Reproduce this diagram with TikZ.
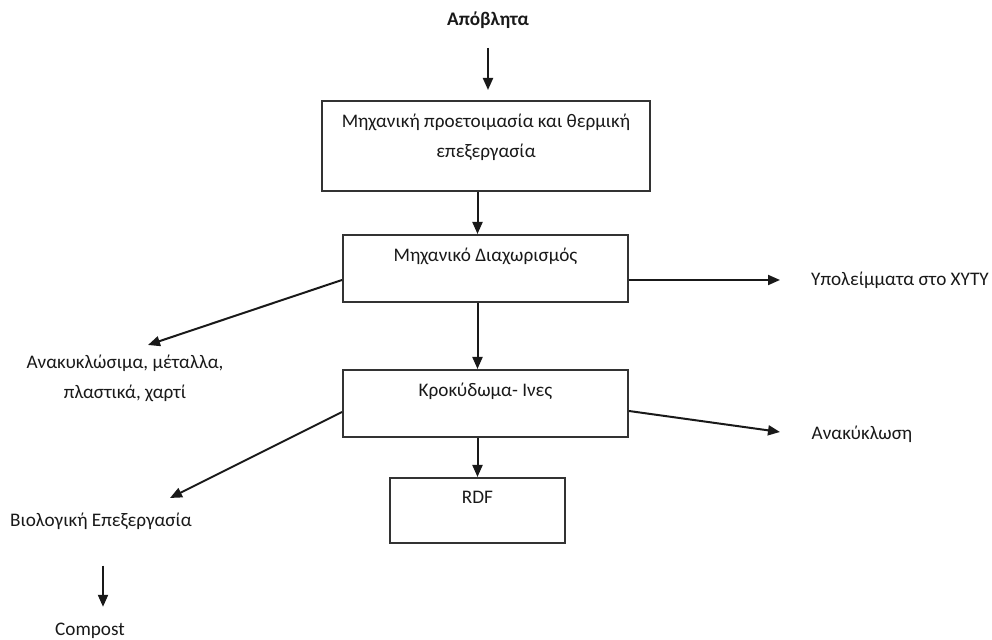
\documentclass[tikz,border=0pt]{standalone}
\usepackage{fontspec}
\setmainfont{Carlito}
\usepackage{tikz}
\usetikzlibrary{arrows.meta,positioning,shapes}

\begin{document}
\begin{tikzpicture}[x=0.5pt,y=-0.5pt,>={Triangle[length=6pt,width=5pt]},
  box/.style={draw=black!80,line width=1pt,inner sep=0pt},
  txt/.style={inner sep=0pt,text=black!90,font=\fontsize{9.6}{15}\selectfont,align=center},
  boxtxt/.style={txt,anchor=north,yshift=-7pt},
  arr/.style={->,line width=1pt,draw=black!90}]
\useasboundingbox (0,0) rectangle (992,640);
\node[txt,font=\fontsize{9.6}{15}\selectfont\bfseries] (apo) at (488,20) {Απόβλητα};
\node[box,minimum width=164pt,minimum height=45pt,
  label={[boxtxt]north:Μηχανική προετοιμασία και θερμική\\επεξεργασία}] (mp) at (486,146) {};
\node[box,minimum width=142.5pt,minimum height=33.5pt,
  label={[boxtxt]north:Μηχανικό Διαχωρισμός}] (md) at (485.5,268.5) {};
\node[box,minimum width=142.5pt,minimum height=33.5pt,
  label={[boxtxt]north:Κροκύδωμα- Ινες}] (kr) at (485.5,403.5) {};
\node[box,minimum width=87.5pt,minimum height=32.5pt,
  label={[boxtxt]north:RDF}] (rdf) at (477.5,510.5) {};
\node[txt] (ypo) at (900,280) {Υπολείμματα στο ΧΥΤΥ};
\node[txt] (anak) at (125,378) {Ανακυκλώσιμα, μέταλλα,\\πλαστικά, χαρτί};
\node[txt] (rec) at (862,434) {Ανακύκλωση};
\node[txt] (bio) at (101,521) {Βιολογική Επεξεργασία};
\node[txt] (comp) at (90,631) {Compost};
\coordinate (anakend) at (148,345);
\coordinate (bioend) at (170,498);
\coordinate (ypoend) at (780,280);
\coordinate (recend) at (780,432);
\draw[arr,shorten <=9.5pt,shorten >=5pt] (apo) -- (apo |- mp.north);
\draw[arr] (mp.south -| rdf.north) -- (md.north -| rdf.north);
\draw[arr] (md.south -| rdf.north) -- (kr.north -| rdf.north);
\draw[arr] (kr.south -| rdf.north) -- (rdf.north);
\draw[arr] ([yshift=-5.75pt]md.east) -- (ypoend);
\draw[arr] ([yshift=-5.75pt]md.west) -- (anakend);
\draw[arr] ([yshift=-3.75pt]kr.east) -- (recend);
\draw[arr] ([yshift=-4.25pt]kr.west) -- (bioend);
\draw[arr,shorten <=18pt,shorten >=8pt] (bio.south -| 103,0) -- (comp.north -| 103,0);
\end{tikzpicture}
\end{document}
